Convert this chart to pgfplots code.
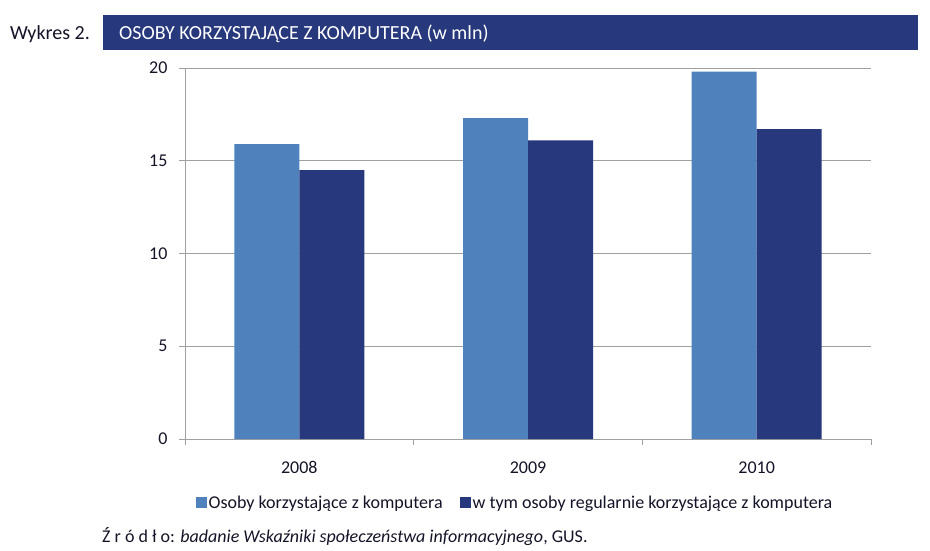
\documentclass[border=0pt]{standalone}
\usepackage{pgfplots}
\pgfplotsset{compat=1.18}
\usepackage{fontspec}
\setmainfont{Carlito}
\definecolor{lightb}{HTML}{4F81BD}
\definecolor{darkb}{HTML}{27387C}
\definecolor{gridg}{HTML}{A0A0A0}
\definecolor{txt}{HTML}{141428}
\pgfplotsset{sqlegend/.style={legend image code/.code={\fill[##1] (0pt,-5.5pt) rectangle (11pt,5.5pt);}}}
\begin{document}
\begin{tikzpicture}[x=1pt,y=1pt]
\path[use as bounding box] (0,0) rectangle (930,550);
\fill[darkb] (103,500) rectangle (918,535);
\node[anchor=base west, text=white, font=\fontsize{20}{24}\selectfont, inner sep=0] at (119,510) {OSOBY KORZYSTAJĄCE Z KOMPUTERA (w mln)};
\node[anchor=base west, text=txt, font=\fontsize{20}{24}\selectfont, inner sep=0] at (10,510) {Wykres 2.};
\node[anchor=base west, text=txt, font=\fontsize{18}{22}\selectfont, inner sep=0] at (102,8) {Ź r ó d ł o: \textit{badanie Wskaźniki społeczeństwa informacyjnego}, GUS.};
\begin{axis}[
  at={(185pt,111pt)}, anchor=south west,
  scale only axis, width=686pt, height=371pt,
  ymin=0, ymax=20, xmin=0.5, xmax=3.5,
  ytick={0,5,10,15,20},
  xtick={1,2,3}, xticklabels={2008,2009,2010},
  minor xtick={0.5,1.5,2.5,3.5},
  axis x line*=bottom, axis y line*=left,
  axis line style={gridg, line width=0.9pt},
  ymajorgrids, major grid style={gridg, line width=0.9pt},
  tick align=outside, major tick length=6pt, minor tick length=6pt,
  tick style={gridg, line width=0.9pt},
  every major x tick/.append style={draw=none},
  /pgf/number format/assume math mode=true,
  tick label style={font=\fontsize{18}{22}\selectfont, text=txt},
  xticklabel style={yshift=-13pt},
  yticklabel style={xshift=-8pt},
  ybar=0pt, bar width=65pt,
  legend style={at={(axis description cs:0.481,-0.172)}, anchor=center, draw=none,
    legend columns=2, font=\fontsize{18}{22}\selectfont, text=txt,
    /tikz/every even column/.append style={column sep=15pt},
    legend cell align=left, inner xsep=0pt},
]
\addplot[fill=lightb, draw=none, sqlegend] coordinates {(1,15.9) (2,17.3) (3,19.8)};
\addplot[fill=darkb, draw=none, sqlegend] coordinates {(1,14.5) (2,16.1) (3,16.7)};
\legend{Osoby korzystające z komputera, w tym osoby regularnie korzystające z komputera}
\end{axis}
\end{tikzpicture}
\end{document}
